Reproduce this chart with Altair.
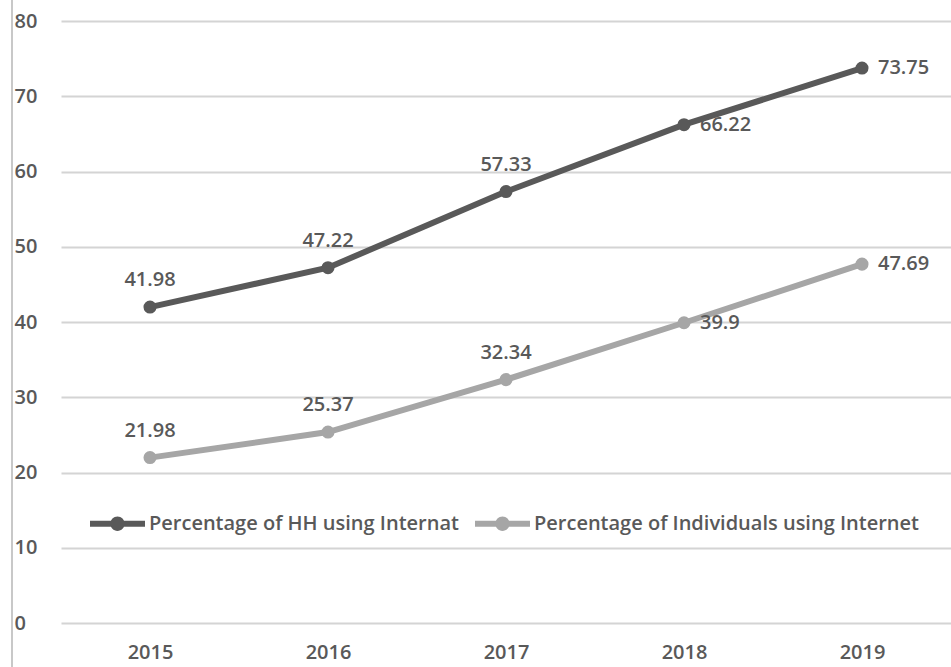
import altair as alt
import pandas as pd

# Internet usage series by year
years = ["2015", "2016", "2017", "2018", "2019"]
hh_values = [41.98, 47.22, 57.33, 66.22, 73.75]
ind_values = [21.98, 25.37, 32.34, 39.9, 47.69]
series_names = ["Percentage of HH using Internat", "Percentage of Individuals using Internet"]
series_colors = ["#595959", "#a6a6a6"]
y_ticks = [0, 10, 20, 30, 40, 50, 60, 70, 80]

rows = []
for name, vals in zip(series_names, [hh_values, ind_values]):
    for yr, v in zip(years, vals):
        rows.append({"Year": yr, "Series": name, "Value": v})
df = pd.DataFrame(rows)

FONT = "Open Sans"
FS = 20
FW = 600
TEXT = "#595959"

# line-with-dot legend glyph, in the -1..1 custom symbol box
legend_glyph = (
    "M-1,-0.11H1V0.11H-1Z "
    "M-0.26,0A0.26,0.26,0,1,1,0.26,0A0.26,0.26,0,1,1,-0.26,0Z"
)

color_scale = alt.Scale(domain=series_names, range=series_colors)
color = alt.Color(
    "Series:N",
    scale=color_scale,
    legend=alt.Legend(
        title=None,
        orient="none",
        legendX=29,
        legendY=475,
        direction="horizontal",
        symbolType=legend_glyph,
        symbolSize=3025,
        symbolStrokeWidth=0,
        symbolOpacity=1,
        labelFont=FONT,
        labelFontSize=FS,
        labelFontWeight=FW,
        labelColor=TEXT,
        labelOffset=4,
        labelLimit=500,
        columnPadding=16,
        padding=0,
    ),
)

x = alt.X(
    "Year:O",
    sort=years,
    scale=alt.Scale(type="point", padding=0.5),
    axis=alt.Axis(
        title=None, labelAngle=0, domain=False, ticks=False, grid=False,
        labelFont=FONT, labelFontSize=FS, labelFontWeight=FW, labelColor=TEXT, labelPadding=19,
    ),
)
y = alt.Y(
    "Value:Q",
    scale=alt.Scale(domain=[0, 80], nice=False),
    axis=alt.Axis(
        title=None, values=y_ticks, domain=False, ticks=False,
        grid=True, gridColor="#d4d4d4", gridWidth=2,
        labelFont=FONT, labelFontSize=FS, labelFontWeight=FW, labelColor=TEXT,
        labelAlign="left", labelPadding=47,
    ),
)

base = alt.Chart(df)

lines = base.mark_line(strokeWidth=6).encode(x=x, y=y, color=color)
points = base.mark_point(filled=True, size=170, opacity=1).encode(
    x=x, y=y, color=alt.Color("Series:N", scale=color_scale, legend=None)
)

label_style = dict(font=FONT, fontSize=FS, fontWeight=FW, color=TEXT, baseline="middle")
labels_above = base.transform_filter("datum.Year < '2018'").mark_text(
    align="center", dy=-27, **label_style
).encode(x=x, y=y, text=alt.Text("Value:Q"))
labels_right = base.transform_filter("datum.Year >= '2018'").mark_text(
    align="left", dx=16, **label_style
).encode(x=x, y=y, text=alt.Text("Value:Q"))

# thin frame line at the far left of the chart
frame = alt.Chart(alt.Data(values=[{"k": 0}])).mark_rule(color="#c8c8c8", strokeWidth=2).encode(
    x=alt.value(-49), y=alt.value(-21), y2=alt.value(646)
)

chart = (
    alt.layer(frame, lines, points, labels_above, labels_right)
    .properties(width=890, height=602, padding={"left": 61, "top": 21, "right": 0, "bottom": 44})
    .configure(autosize=alt.AutoSizeParams(type="none"), background="white")
    .configure_view(stroke=None)
)

chart.save("out.html", embed_options={"renderer": "svg", "actions": False})
